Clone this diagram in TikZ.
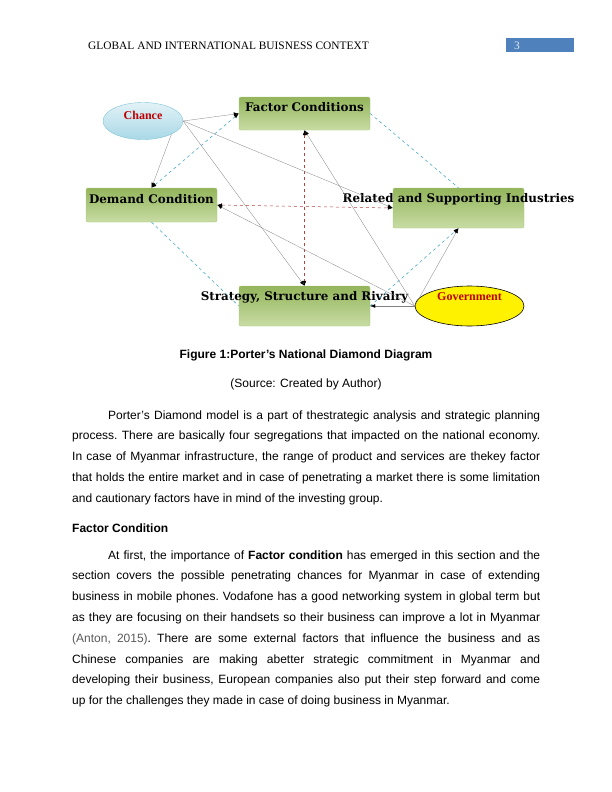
\documentclass[tikz,border=0pt]{standalone}
\usepackage{fontspec}
\setmainfont{Liberation Sans}
\newfontfamily\headfont{Liberation Serif}
\newfontfamily\boxfont{DejaVu Serif}
\usetikzlibrary{shapes.geometric,arrows.meta}
\definecolor{greentop}{HTML}{93B55B}
\definecolor{greenbot}{HTML}{C8DCA4}
\definecolor{greenline}{HTML}{A9C47A}
\definecolor{chancetop}{HTML}{E2F2F7}
\definecolor{chancebot}{HTML}{A9D8E6}
\definecolor{chanceline}{HTML}{7FC3D8}
\definecolor{bluedash}{HTML}{4BACC6}
\definecolor{reddash}{HTML}{B5423E}
\definecolor{headblue}{HTML}{4F81BD}
\definecolor{labelred}{HTML}{C00000}
\tikzset{
  tip/.tip={Latex[black,length=5pt,width=3.6pt]},
  factorbox/.style={draw=greenline, rounded corners=2pt, top color=greentop, bottom color=greenbot, minimum width=131pt},
  boxlabel/.style={anchor=center, yshift=-11.5pt, font=\boxfont\bfseries\fontsize{11.9}{13}\selectfont, inner sep=0pt},
  ovallabel/.style={anchor=center, text=labelred, font=\headfont\bfseries\fontsize{12}{13}\selectfont, inner sep=0pt},
  bluelink/.style={bluedash, dashed, line width=0.6pt},
  redlink/.style={reddash, dashed, line width=0.5pt},
  greylink/.style={gray, line width=0.3pt, -tip},
  bodytext/.style={anchor=base west, inner sep=0pt, text width=468pt, align=justify, font=\fontsize{12}{20.8}\selectfont\frenchspacing}
}
\begin{document}
\begin{tikzpicture}[x=1pt,y=-1pt]
  \useasboundingbox (0,0) rectangle (612,792);
  % header
  \node[anchor=base west, inner sep=0pt, font=\headfont\fontsize{11.4}{13}\selectfont] (title) at (88,49) {GLOBAL AND INTERNATIONAL BUISNESS CONTEXT};
  \fill[headblue] (506,38) rectangle (574,52);
  \node[anchor=base west, inner sep=0pt, text=white!85!headblue, font=\headfont\fontsize{11.4}{13}\selectfont] (page) at (514,49) {3};
  % the four conditions
  \node[factorbox, minimum height=33pt, label={[boxlabel, yshift=1pt]north:Factor Conditions}] (factor) at (304.5,113.5) {};
  \node[factorbox, minimum height=34pt, label={[boxlabel]north:Demand Condition}] (demand) at (151.5,205) {};
  \node[factorbox, minimum height=40pt, label={[boxlabel]north:Related and Supporting Industries}] (related) at (458.5,208) {};
  \node[factorbox, minimum height=40pt, label={[boxlabel]north:Strategy, Structure and Rivalry}] (strategy) at (304.5,306) {};
  \node[ellipse, draw=chanceline, top color=chancetop, bottom color=chancebot, minimum width=80pt, minimum height=37pt,
        label={[ovallabel, yshift=-13pt]north:Chance}] (chance) at (143,121) {};
  \node[ellipse, draw=black, line width=0.6pt, fill=yellow, minimum width=109pt, minimum height=40pt,
        label={[ovallabel, yshift=-11pt]north:Government}] (gov) at (469.5,306) {};
  % links
  \draw[bluelink, tip-tip] (factor.west) -- (demand.north);
  \draw[bluelink] (factor.east) -- (related.north);
  \draw[bluelink] (demand.south) -- (strategy.west);
  \draw[bluelink, -tip] (strategy.east) -- (related.south);
  \draw[redlink, tip-tip] (factor.south) -- (strategy.north);
  \draw[redlink, tip-tip] (demand.east) -- (related.west);
  \draw[greylink] (chance.east) -- (factor.west);
  \draw[greylink] (chance.south east) -- (demand.north);
  \draw[greylink] (chance.east) -- (strategy.north);
  \draw[greylink] (chance.east) -- (related.west);
  \draw[greylink] (gov.west) -- (factor.south);
  \draw[greylink] (gov.west) -- (demand.east);
  \draw[greylink] (gov.west) -- (strategy.east);
  \draw[greylink] (gov.west) -- (related.south);
  % caption and text
  \node[anchor=base, inner sep=0pt, font=\bfseries\fontsize{12}{13}\selectfont] (caption) at (306,358) {Figure 1:Porter’s National Diamond Diagram};
  \node[anchor=base, inner sep=0pt, font=\fontsize{12}{13}\selectfont] (source) at (306,387) {(Source: Created by Author)};
  \node[bodytext] (para1) at (72,419) {\hspace*{36pt}Porter’s Diamond model is a part of thestrategic analysis and strategic planning\linebreak
    process. There are basically four segregations that impacted on the national economy.\linebreak
    In case of Myanmar infrastructure, the range of product and services are thekey factor\linebreak
    that holds the entire market and in case of penetrating a market there is some limitation\linebreak
    and cautionary factors have in mind of the investing group.};
  \node[anchor=base west, inner sep=0pt, font=\bfseries\fontsize{12}{13}\selectfont] (heading) at (72,532) {Factor Condition};
  \node[bodytext] (para2) at (72,559) {\hspace*{36pt}At first, the importance of \textbf{Factor condition} has emerged in this section and the\linebreak
    section covers the possible penetrating chances for Myanmar in case of extending\linebreak
    business in mobile phones. Vodafone has a good networking system in global term but\linebreak
    as they are focusing on their handsets so their business can improve a lot in Myanmar\linebreak
    {\color{black!65}(Anton, 2015)}. There are some external factors that influence the business and as\linebreak
    Chinese companies are making abetter strategic commitment in Myanmar and\linebreak
    developing their business, European companies also put their step forward and come\linebreak
    up for the challenges they made in case of doing business in Myanmar.};
\end{tikzpicture}
\end{document}
